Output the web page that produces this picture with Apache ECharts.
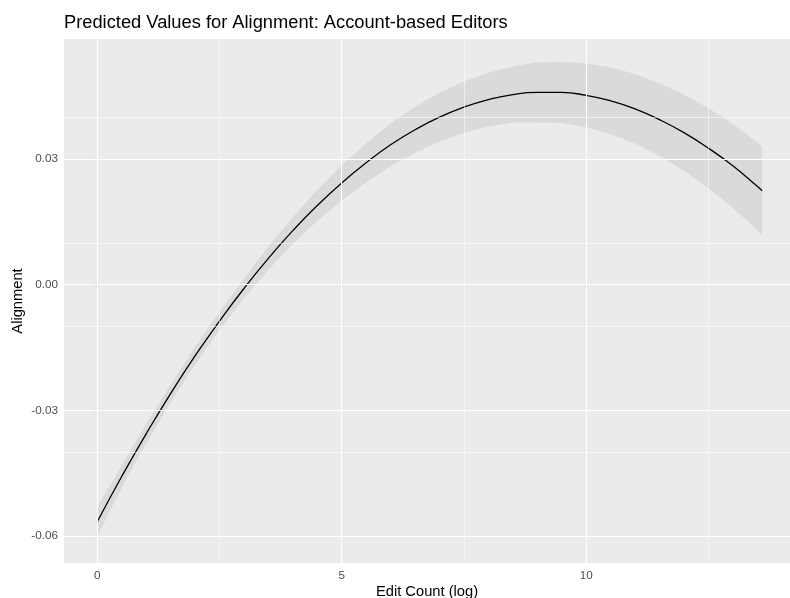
<!DOCTYPE html>
<html>
<head>
<meta charset="utf-8">
<script src="https://cdn.jsdelivr.net/npm/echarts@6/dist/echarts.min.js"></script>
<style>
  html, body { margin: 0; padding: 0; background: #fff; }
  #main { width: 790px; height: 598px; }
</style>
</head>
<body>
<div id="main"></div>
<script>
// predicted values
const editCount = [0, 0.5, 1, 1.5, 2, 2.5, 3, 3.5, 4, 4.5, 5, 5.5, 6, 6.5, 7, 7.5,
  8, 8.5, 9, 9.5, 10, 10.5, 11, 11.5, 12, 12.5, 13, 13.5, 13.6];
const fit = [-0.0566, -0.0458, -0.0356, -0.0260, -0.0170, -0.0087, -0.0009, 0.0063,
  0.0129, 0.0189, 0.0243, 0.0291, 0.0334, 0.0370, 0.0400, 0.0424, 0.0442, 0.0454,
  0.0459, 0.0459, 0.0452, 0.0439, 0.0420, 0.0394, 0.0363, 0.0326, 0.0284, 0.0235, 0.0224];
const lower = [-0.0600, -0.0485, -0.0379, -0.0281, -0.0191, -0.0109, -0.0033, 0.0035,
  0.0097, 0.0152, 0.0201, 0.0244, 0.0283, 0.0315, 0.0342, 0.0363, 0.0378, 0.0387,
  0.0387, 0.0386, 0.0376, 0.0359, 0.0337, 0.0307, 0.0272, 0.0230, 0.0184, 0.0130, 0.0118];
const upper = [-0.0532, -0.0431, -0.0333, -0.0239, -0.0149, -0.0065, 0.0015, 0.0091,
  0.0161, 0.0226, 0.0285, 0.0338, 0.0385, 0.0425, 0.0458, 0.0485, 0.0506, 0.0521,
  0.0531, 0.0532, 0.0528, 0.0519, 0.0503, 0.0481, 0.0454, 0.0422, 0.0384, 0.0340, 0.0330];

// axis breaks
const xMajor = [0, 5, 10];
const xMinor = [2.5, 7.5, 12.5];
const yMajor = [-0.06, -0.03, 0, 0.03];
const yMinor = [-0.045, -0.015, 0.015, 0.045];

const FONT = 'Liberation Sans, Arial, sans-serif';

let myChart = echarts.init(document.getElementById('main'), null, { renderer: 'canvas' });

// grid lines drawn as mark lines so they sit on the ggplot breaks
let gridLines = [];
xMinor.forEach(v => gridLines.push({ xAxis: v, lineStyle: { width: 0.55 } }));
yMinor.forEach(v => gridLines.push({ yAxis: v, lineStyle: { width: 0.55 } }));
xMajor.forEach(v => gridLines.push({ xAxis: v, lineStyle: { width: 1.1 } }));
yMajor.forEach(v => gridLines.push({ yAxis: v, lineStyle: { width: 1.1 } }));

let option = {
    animation: false,
    backgroundColor: '#ffffff',
    title: {
        text: 'Predicted Values for Alignment: Account-based Editors',
        left: 59,
        top: 9,
        textStyle: {
            fontFamily: FONT,
            fontSize: 18.3,
            fontWeight: 'normal',
            color: '#000'
        }
    },
    grid: {
        left: 64,
        right: 0,
        top: 39,
        bottom: 35,
        outerBoundsMode: 'none',
        containLabel: false,
        show: true,
        backgroundColor: '#EBEBEB',
        borderWidth: 0
    },
    xAxis: {
        type: 'value',
        min: -0.68,
        max: 14.17,
        name: 'Edit Count (log)',
        nameLocation: 'middle',
        nameGap: 21,
        nameMoveOverlap: false,
        nameTextStyle: { fontFamily: FONT, fontSize: 14.7, color: '#000' },
        axisLine: { show: false },
        axisTick: {
            show: true,
            customValues: xMajor,
            length: 3.7,
            lineStyle: { color: '#333333', width: 1.1 }
        },
        axisLabel: {
            customValues: xMajor,
            margin: 7,
            fontFamily: FONT,
            fontSize: 11.7,
            color: '#4D4D4D',
            formatter: v => String(v)
        },
        splitLine: { show: false }
    },
    yAxis: {
        type: 'value',
        min: -0.06644,
        max: 0.05866,
        name: 'Alignment',
        nameLocation: 'middle',
        nameGap: 39,
        nameMoveOverlap: false,
        nameRotate: 90,
        nameTextStyle: { fontFamily: FONT, fontSize: 14.7, color: '#000' },
        axisLine: { show: false },
        axisTick: {
            show: true,
            customValues: yMajor,
            length: 3.7,
            lineStyle: { color: '#333333', width: 1.1 }
        },
        axisLabel: {
            customValues: yMajor,
            margin: 6,
            fontFamily: FONT,
            fontSize: 11.7,
            color: '#4D4D4D',
            formatter: v => v.toFixed(2)
        },
        splitLine: { show: false }
    },
    series: [{
        // carrier for the white grid lines
        type: 'line',
        z: 1,
        silent: true,
        showSymbol: false,
        data: editCount.map((x, i) => [x, fit[i]]),
        lineStyle: { opacity: 0 },
        markLine: {
            silent: true,
            symbol: 'none',
            label: { show: false },
            lineStyle: { color: '#ffffff', type: 'solid' },
            emphasis: { disabled: true },
            data: gridLines
        }
    }, {
        // confidence ribbon
        type: 'custom',
        z: 2,
        silent: true,
        data: editCount.map((x, i) => [x, lower[i], upper[i]]),
        encode: { x: 0, y: [1, 2] },
        renderItem: function (params, api) {
            if (params.dataIndex !== 0) return null;
            let pts = [];
            for (let i = 0; i < editCount.length; i++) {
                pts.push(api.coord([editCount[i], upper[i]]));
            }
            for (let i = editCount.length - 1; i >= 0; i--) {
                pts.push(api.coord([editCount[i], lower[i]]));
            }
            return {
                type: 'polygon',
                shape: { points: pts },
                style: { fill: 'rgba(128,128,128,0.16)', stroke: 'none' }
            };
        }
    }, {
        name: 'fit',
        type: 'line',
        z: 3,
        smooth: true,
        showSymbol: false,
        data: editCount.map((x, i) => [x, fit[i]]),
        lineStyle: { color: '#000000', width: 1.3 }
    }]
};

myChart.setOption(option);
</script>
</body>
</html>
